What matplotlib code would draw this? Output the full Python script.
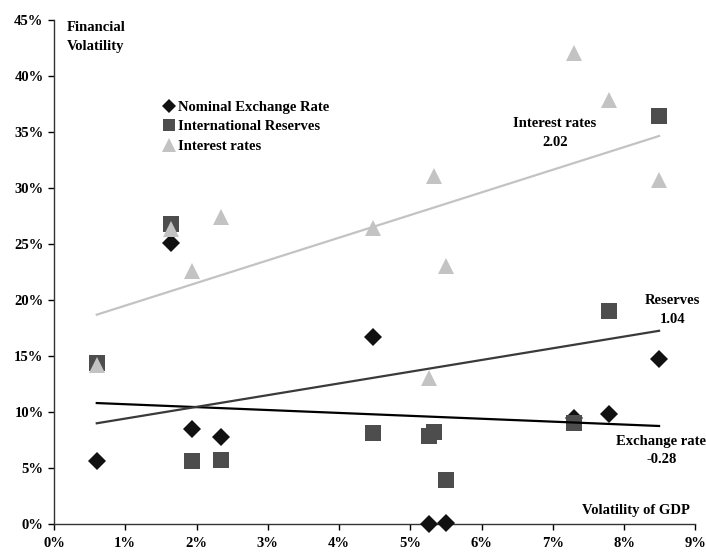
import matplotlib
matplotlib.use("Agg")
import matplotlib.pyplot as plt
import numpy as np
from matplotlib.ticker import PercentFormatter

# Volatility of GDP (%) for each country
gdp_vol = [0.60, 1.64, 1.94, 2.34, 4.47, 5.26, 5.33, 5.50, 7.30, 7.79, 8.49]
# Financial volatility (%) per indicator; nan where no marker is visible
exch_rate = [5.6, 25.1, 8.5, 7.8, 16.7, 0.0, np.nan, 0.1, 9.5, 9.8, 14.7]
reserves = [14.4, 26.8, 5.6, 5.7, 8.15, 7.9, 8.2, 3.9, 9.0, 19.0, 36.4]
interest = [14.2, 26.3, 22.6, 27.4, 26.4, 13.0, 31.1, 23.0, 42.1, 37.9, 30.7]

series_names = ["Nominal Exchange Rate", "International Reserves", "Interest rates"]
trend_labels = ["Exchange rate\n-0.28", "Reserves\n1.04", "Interest rates\n2.02"]

plt.rcParams["font.family"] = ["Liberation Serif", "DejaVu Serif"]
plt.rcParams["font.weight"] = "bold"

fig = plt.figure(figsize=(7.06, 5.52), dpi=100)
ax = fig.add_axes([0.0765, 0.0507, 0.9085, 0.913])

x = np.array(gdp_vol)
styles = [
    dict(marker="D", color="#111111", ms=9, line="#000000"),
    dict(marker="s", color="#4d4d4d", ms=11, line="#3a3a3a"),
    dict(marker="^", color="#c3c3c3", ms=12, line="#c3c3c3"),
]
handles = []
for name, vals, st, z in zip(series_names, [exch_rate, reserves, interest], styles, [3, 4, 5]):
    y = np.array(vals, dtype=float)
    h, = ax.plot(x, y, linestyle="none", marker=st["marker"], ms=st["ms"],
                 color=st["color"], markeredgewidth=0, label=name, zorder=z, clip_on=False)
    handles.append(h)
    ok = ~np.isnan(y)
    slope, icpt = np.polyfit(x[ok], y[ok], 1)
    xx = np.array([x[ok].min(), x[ok].max()])
    ax.plot(xx, slope * xx + icpt, color=st["line"], lw=1.6, zorder=6)

ax.set_xlim(0, 9)
ax.set_ylim(0, 45)
ax.set_xticks(np.arange(0, 10, 1))
ax.set_yticks(np.arange(0, 50, 5))
ax.xaxis.set_major_formatter(PercentFormatter(xmax=100, decimals=0))
ax.yaxis.set_major_formatter(PercentFormatter(xmax=100, decimals=0))
ax.tick_params(direction="out", length=4, width=1, labelsize=10.5, colors="black")
ax.tick_params(axis="x", pad=5)
for lab in ax.get_xticklabels() + ax.get_yticklabels():
    lab.set_fontweight("bold")
for side in ["top", "right"]:
    ax.spines[side].set_visible(False)
for side in ["left", "bottom"]:
    ax.spines[side].set_color("#333333")
    ax.spines[side].set_linewidth(1)

ax.text(0.18, 44.9, "Financial\nVolatility", fontsize=10.5, fontweight="bold",
        ha="left", va="top", linespacing=1.6)
ax.text(8.92, 1.25, "Volatility of GDP", fontsize=10.5, fontweight="bold",
        ha="right", va="center")

ax.text(7.03, 34.95, trend_labels[2], fontsize=10.5, fontweight="bold",
        ha="center", va="center", linespacing=1.6)
ax.text(8.68, 19.1, trend_labels[1], fontsize=10.5, fontweight="bold",
        ha="center", va="center", linespacing=1.55)
ax.text(8.52, 6.56, trend_labels[0], fontsize=10.5, fontweight="bold",
        ha="center", va="center", linespacing=1.55)

leg = ax.legend(handles=handles, loc="upper left", bbox_to_anchor=(0.163, 0.852),
                frameon=False, fontsize=10.5, handlelength=0.6, handletextpad=0.3,
                labelspacing=0.45, borderaxespad=0, markerscale=0.8)
for t in leg.get_texts():
    t.set_fontweight("bold")

fig.savefig("out.png", dpi=100)
